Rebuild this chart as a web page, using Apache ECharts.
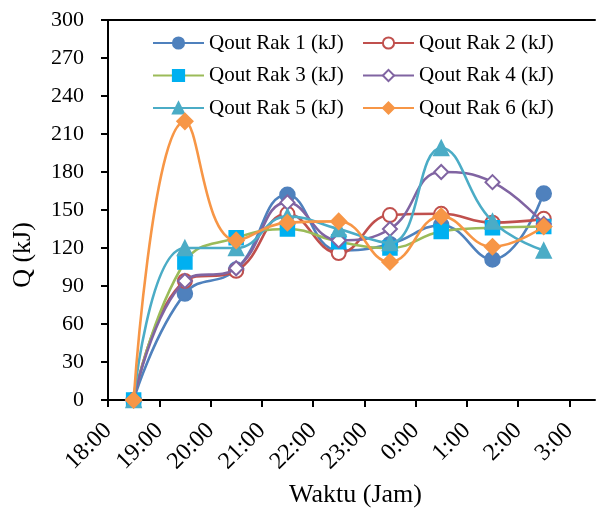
<!DOCTYPE html>
<html>
<head>
<meta charset="utf-8">
<script src="https://cdn.jsdelivr.net/npm/echarts@6/dist/echarts.min.js"></script>
<style>
  html, body { margin: 0; padding: 0; background: #fff; }
  #chart { width: 598px; height: 510px; }
</style>
</head>
<body>
<div id="chart"></div>
<script>
// Measurement times, in hours after midnight of the first day (24.5 = 0:30 next day)
const hours = [18.5, 19.5, 20.5, 21.5, 22.5, 23.5, 24.5, 25.5, 26.5];

// Heat output per rack (kJ)
const rak1 = [0, 84, 103, 162, 118, 123, 138, 111, 163];
const rak2 = [0, 94, 102, 147, 116, 146, 147, 140, 143];
const rak3 = [0, 109, 128, 135, 125, 120, 133, 136, 137];
const rak4 = [0, 94, 104, 156, 126, 135, 180, 172, 139];
const rak5 = [0, 120, 120, 145, 135, 124, 199, 141, 118];
const rak6 = [0, 220, 126, 140, 141, 109, 145, 121, 137];

const seriesNames = [
  'Qout Rak 1 (kJ)', 'Qout Rak 2 (kJ)', 'Qout Rak 3 (kJ)',
  'Qout Rak 4 (kJ)', 'Qout Rak 5 (kJ)', 'Qout Rak 6 (kJ)'
];

// x-axis ticks (hours) and their clock labels
const xTicks = [18, 19, 20, 21, 22, 23, 24, 25, 26, 27];
const xTickLabels = ['18:00', '19:00', '20:00', '21:00', '22:00', '23:00', '0:00', '1:00', '2:00', '3:00'];

const FONT = "'Liberation Serif', 'Times New Roman', serif";

const styles = [
  { line: '#4F81BD', fill: '#4F81BD', symbol: 'circle', size: 15 },
  { line: '#C0504D', fill: '#C0504D', symbol: 'emptyCircle', size: 14 },
  { line: '#9BBB59', fill: '#00B0F0', symbol: 'rect', size: 14 },
  { line: '#8064A2', fill: '#8064A2', symbol: 'emptyDiamond', size: 14 },
  { line: '#4BACC6', fill: '#4BACC6', symbol: 'triangle', size: 15 },
  { line: '#F79646', fill: '#F79646', symbol: 'diamond', size: 16 }
];

const values = [rak1, rak2, rak3, rak4, rak5, rak6];

const series = values.map((vals, i) => ({
  name: seriesNames[i],
  type: 'line',
  smooth: 0.45,
  data: vals.map((v, k) => [hours[k], v]),
  symbol: styles[i].symbol,
  symbolSize: styles[i].size,
  showAllSymbol: true,
  lineStyle: { color: styles[i].line, width: 2.6 },
  itemStyle: { color: styles[i].fill, borderColor: styles[i].fill, borderWidth: 1.5 },
  emphasis: { disabled: true },
  z: 2 + i
}));

const legendBase = {
  orient: 'vertical',
  top: 27,
  itemWidth: 51,
  itemHeight: 14,
  itemGap: 10.5,
  textStyle: { fontFamily: FONT, fontSize: 21, color: '#000', lineHeight: 22 },
  selectedMode: false
};

const chart = echarts.init(document.getElementById('chart'), null, { renderer: 'canvas' });

chart.setOption({
  animation: false,
  backgroundColor: '#fff',
  grid: { left: 108, right: 3, top: 20, bottom: 110, containLabel: false, outerBoundsMode: 'none' },
  legend: [
    Object.assign({}, legendBase, { left: 147, data: [seriesNames[0], seriesNames[2], seriesNames[4]] }),
    Object.assign({}, legendBase, { left: 357, data: [seriesNames[1], seriesNames[3], seriesNames[5]] })
  ],
  xAxis: [
    {
      type: 'value',
      min: 18,
      max: 27.5,
      interval: 1,
      name: 'Waktu (Jam)',
      nameLocation: 'middle',
      nameGap: 82,
      nameTextStyle: { fontFamily: FONT, fontSize: 26, color: '#000', padding: [0, 0, 0, 8] },
      axisLine: { show: true, onZero: false, lineStyle: { color: '#000', width: 2 } },
      axisTick: { show: true, length: 7, lineStyle: { color: '#000', width: 2 }, customValues: xTicks },
      axisLabel: {
        fontFamily: FONT, fontSize: 24, color: '#000', rotate: 45, margin: 27,
        customValues: xTicks,
        formatter: v => xTickLabels[xTicks.indexOf(v)] || ''
      },
      splitLine: { show: false }
    },
    {
      // top frame line of the plot area
      type: 'value',
      position: 'top',
      min: 18,
      max: 27.5,
      axisLine: { show: true, onZero: false, lineStyle: { color: '#000', width: 2 } },
      axisTick: { show: false },
      axisLabel: { show: false },
      splitLine: { show: false }
    }
  ],
  yAxis: {
    type: 'value',
    min: 0,
    max: 300,
    interval: 30,
    name: 'Q (kJ)',
    nameLocation: 'middle',
    nameRotate: 90,
    nameGap: 72,
    nameTextStyle: { fontFamily: FONT, fontSize: 26, color: '#000', padding: [0, 90, 0, 0] },
    axisLine: { show: true, lineStyle: { color: '#000', width: 2 } },
    axisTick: { show: true, length: 7, lineStyle: { color: '#000', width: 2 } },
    axisLabel: { fontFamily: FONT, fontSize: 22, color: '#000', margin: 24 },
    splitLine: { show: false }
  },
  series: series
});
</script>
</body>
</html>
